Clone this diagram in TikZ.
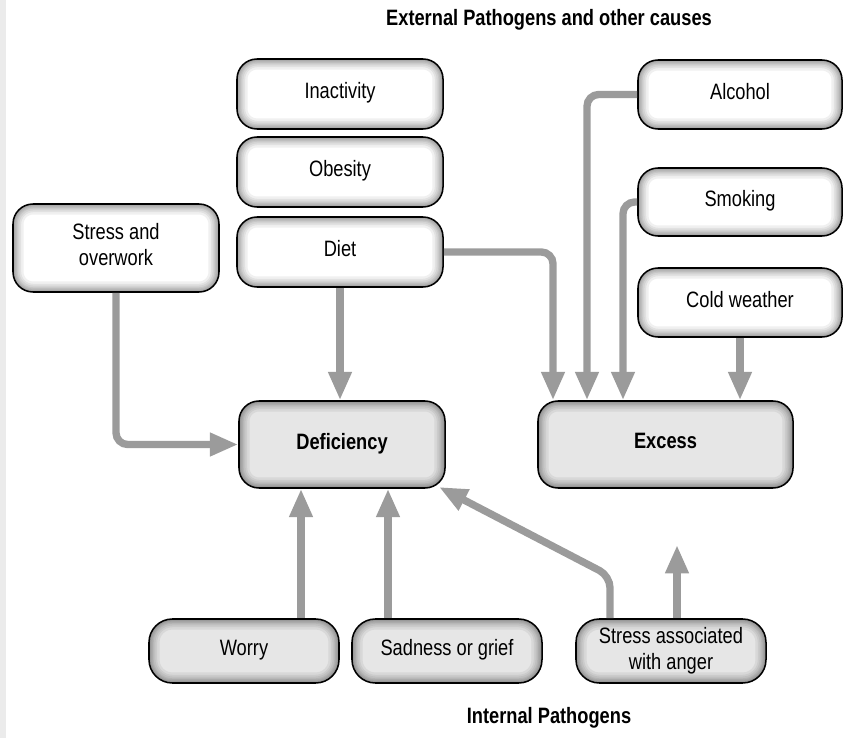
\documentclass[tikz,border=0pt]{standalone}
\usepackage{fontspec}
\setmainfont{Liberation Sans}[FakeStretch=0.82]
\usetikzlibrary{arrows.meta}
\definecolor{arrowgray}{HTML}{9B9B9B}
\definecolor{boxgray}{HTML}{E6E6E6}
\definecolor{stripgray}{HTML}{EBEBEB}
\tikzset{
  bevel/.style={path picture={
    \foreach \w in {18pt,14pt,11pt,8pt,6pt,4pt,2.5pt,1.2pt}{
      \draw[line width=\w, black, draw opacity=0.06, rounded corners=#1]
        (path picture bounding box.south west) rectangle (path picture bounding box.north east);}
  }},
  basebox/.style={draw=black, line width=1.3pt, rounded corners=#1, inner sep=0pt,
    align=center, font=\fontsize{19}{22}\selectfont, bevel=#1},
  wbox/.style={basebox=0.6cm, fill=white},
  gbox/.style={basebox=0.6cm, fill=boxgray},
  bbox/.style={basebox=0.7cm, fill=boxgray},
  title/.style={font=\bfseries\fontsize{19}{22}\selectfont, inner sep=0pt},
  conn/.style={draw=arrowgray, line width=0.22cm, rounded corners=0.35cm,
    -{Triangle[length=0.85cm,width=0.66cm]}},
}
\begin{document}
\begin{tikzpicture}[x=0.03cm,y=-0.03cm]
\useasboundingbox (0,0) rectangle (847,738);
\fill[stripgray] (0,0) rectangle (6,738);

\node[title] (ext) at (549,20) {External Pathogens and other causes};
\node[title] (int) at (549,718) {Internal Pathogens};

\node[wbox, minimum width=6.18cm, minimum height=2.1cm] (inact) at (340,94) {Inactivity\rule[-6pt]{0pt}{0pt}};
\node[wbox, minimum width=6.18cm, minimum height=2.1cm] (obes) at (340,172) {Obesity\rule[-6pt]{0pt}{0pt}};
\node[wbox, minimum width=6.18cm, minimum height=2.1cm] (diet) at (340,252) {Diet\rule[-6pt]{0pt}{0pt}};
\node[wbox, minimum width=6.18cm, minimum height=2.64cm] (stress) at (116,248) {Stress and\\overwork\rule[-6pt]{0pt}{0pt}};
\node[wbox, minimum width=6.12cm, minimum height=2.07cm] (alc) at (740,94.5) {Alcohol\rule[-6pt]{0pt}{0pt}};
\node[wbox, minimum width=6.12cm, minimum height=2.04cm] (smk) at (740,202) {Smoking\rule[-6pt]{0pt}{0pt}};
\node[wbox, minimum width=6.12cm, minimum height=2.07cm] (cold) at (740,302.5) {Cold weather\rule[-6pt]{0pt}{0pt}};

\node[gbox, minimum width=6.18cm, minimum height=2.61cm] (def) at (342,444.5) {\bfseries Deficiency\rule[-6pt]{0pt}{0pt}};
\node[gbox, minimum width=7.65cm, minimum height=2.61cm] (exc) at (665.5,444.5) {\bfseries Excess\rule[-6pt]{0pt}{0pt}};

\node[bbox, minimum width=5.7cm, minimum height=1.92cm] (worry) at (244,651) {Worry\rule[-6pt]{0pt}{0pt}};
\node[bbox, minimum width=5.7cm, minimum height=1.92cm] (sad) at (447,651) {Sadness or grief\rule[-6pt]{0pt}{0pt}};
\node[bbox, minimum width=5.7cm, minimum height=1.92cm] (anger) at (671,651) {Stress associated\\with anger\rule[-5pt]{0pt}{0pt}};

\coordinate (ax) at (587,0);
\coordinate (sx) at (623,0);
\coordinate (dx) at (553,0);
\coordinate (wx) at (301,0);
\coordinate (gx) at (388,0);
\coordinate (bend) at (610,576);
\coordinate (dtip) at (439,487);
\coordinate (atip) at (677,545);

\draw[conn] (diet.east) -| (exc.north -| dx);
\draw[conn] (alc.west) -| (exc.north -| ax);
\draw[conn] (smk.west) -| (exc.north -| sx);
\draw[conn] (cold.south) -- (exc.north -| cold.south);
\draw[conn] (diet.south) -- (def.north -| diet.south);
\draw[conn] (stress.south) |- (def.west);
\draw[conn] (worry.north -| wx) -- (def.south -| wx);
\draw[conn] (sad.north -| gx) -- (def.south -| gx);
\draw[conn] (anger.north -| bend) -- (bend) -- (dtip);
\draw[conn] (anger.north -| atip) -- (atip);
\end{tikzpicture}
\end{document}
